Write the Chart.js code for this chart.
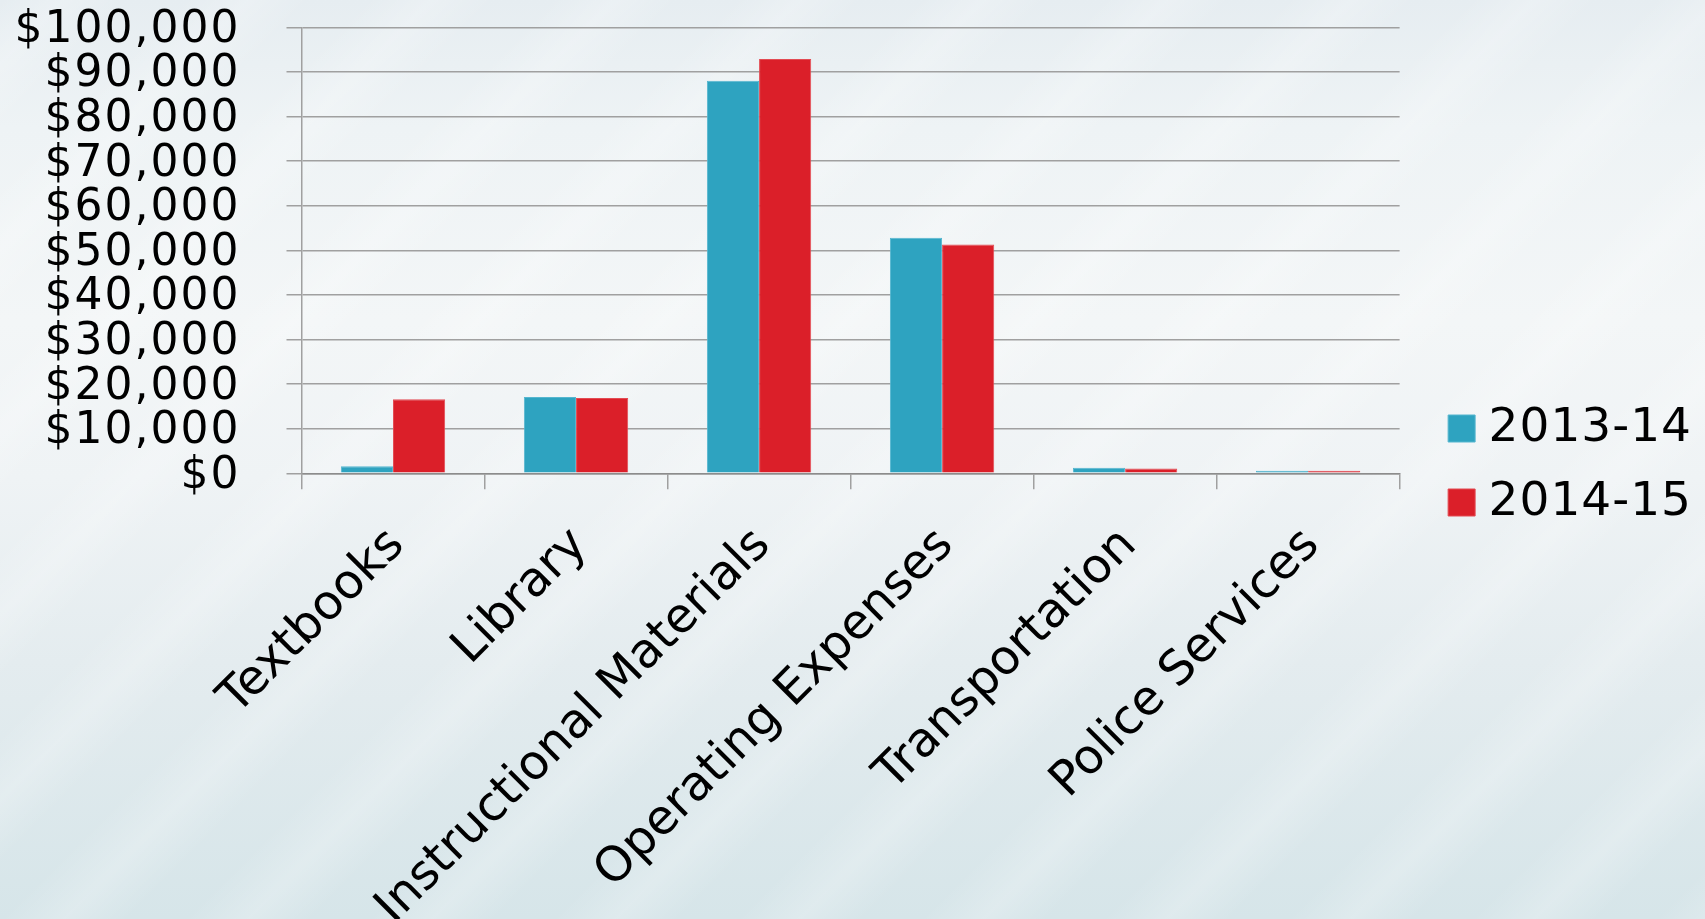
<!DOCTYPE html>
<html>
<head>
<meta charset="utf-8">
<script src="https://cdn.jsdelivr.net/npm/chart.js@4/dist/chart.umd.min.js"></script>
<style>
html, body { margin: 0; padding: 0; width: 1705px; height: 919px; overflow: hidden; }
body {
  background:
    repeating-linear-gradient(135deg, rgba(255,255,255,0) 0px, rgba(255,255,255,0.22) 45px, rgba(255,255,255,0) 90px, rgba(255,255,255,0) 130px),
    linear-gradient(180deg, #e6edf1 0%, #eef3f5 14%, #f3f6f7 35%, #eff3f5 52%, #e4ecef 72%, #d6e5e9 100%);
}
#c { display: block; }
</style>
</head>
<body>
<canvas id="c" width="1705" height="919"></canvas>
<script>
const categories = ['Textbooks', 'Library', 'Instructional Materials', 'Operating Expenses', 'Transportation', 'Police Services'];
const seriesNames = ['2013-14', '2014-15'];
const values201314 = [1600, 17100, 88000, 52800, 1250, 550];
const values201415 = [16600, 16900, 92900, 51300, 1100, 550];
const yTickLabels = ['$0', '$10,000', '$20,000', '$30,000', '$40,000', '$50,000', '$60,000', '$70,000', '$80,000', '$90,000', '$100,000'];
const seriesColors = ['#2ea3c0', '#db1f29'];
const seriesBorders = ['#55b6cf', '#e34b53'];

const FONT = 'DejaVu Sans';
const LEGEND_SHIFT_X = 21.5;
const LEGEND_SHIFT_Y = 6;
const LEGEND_TEXT_RIGHT = 1692;

const layoutTweak = {
  id: 'layoutTweak',
  beforeLayout(chart) {
    const lg = chart.legend;
    if (lg && !lg._tweaked) {
      const orig = lg.fit;
      lg.fit = function () { orig.call(this); this.width += LEGEND_SHIFT_X; };
      const origDraw = lg.draw;
      lg.draw = function () {
        const c = this.ctx; c.save(); c.letterSpacing = '1px'; origDraw.call(this); c.restore();
      };
      lg._tweaked = true;
    }
  },
  afterLayout(chart) {
    const lg = chart.legend;
    if (lg) {
      lg.left += LEGEND_SHIFT_X;
      lg.right = LEGEND_TEXT_RIGHT;
      lg.top += LEGEND_SHIFT_Y; lg.bottom += LEGEND_SHIFT_Y;
    }
  },
  beforeDraw(chart) {
    const s = chart.scales.y;
    if (s && !s._lsWrapped) {
      const o = s.drawLabels;
      s.drawLabels = function (a) {
        const c = this.ctx; c.save(); c.letterSpacing = '2px'; o.call(this, a); c.restore();
      };
      s._lsWrapped = true;
    }
  }
};

new Chart(document.getElementById('c'), {
  type: 'bar',
  data: {
    labels: categories,
    datasets: [
      { label: seriesNames[0], data: values201314, backgroundColor: seriesColors[0], borderColor: seriesBorders[0], borderWidth: 1, borderSkipped: 'start' },
      { label: seriesNames[1], data: values201415, backgroundColor: seriesColors[1], borderColor: seriesBorders[1], borderWidth: 1, borderSkipped: 'start' }
    ]
  },
  options: {
    responsive: false,
    animation: false,
    devicePixelRatio: 1,
    datasets: { bar: { categoryPercentage: 0.57, barPercentage: 1.0 } },
    layout: { padding: 0 },
    scales: {
      x: {
        afterFit(s) { s.paddingLeft = 0; s.paddingRight = 0; s.paddingTop = 0; s.paddingBottom = 0; s.height = 445.7; },
        grid: { display: true, drawOnChartArea: false, tickLength: 16, color: '#a0a0a0', lineWidth: 1.5, offset: true },
        border: { display: true, color: '#8c8c8c', width: 1.5 },
        ticks: { autoSkip: false, maxRotation: 45, minRotation: 45, color: '#000', padding: 28, labelOffset: 4,
                 font: { family: FONT, size: 48 } }
      },
      y: {
        min: 0, max: 100000,
        afterFit(s) { s.paddingTop = 27.3; s.paddingBottom = 0; s.width = 301.5; },
        grid: { color: '#a0a0a0', lineWidth: 1.5, tickLength: 15 },
        border: { display: true, color: '#a0a0a0', width: 1.5 },
        ticks: { autoSkip: false, stepSize: 10000, color: '#000', padding: 46, labelOffset: 3, font: { family: FONT, size: 44 },
                 callback: (v, i) => yTickLabels[i] }
      }
    },
    plugins: {
      tooltip: { enabled: false },
      legend: {
        position: 'right',
        labels: { boxWidth: 27, boxHeight: 27, padding: 27, textAlign: 'right', color: '#000', font: { family: FONT, size: 47 } }
      }
    }
  },
  plugins: [layoutTweak]
});
</script>
</body>
</html>
